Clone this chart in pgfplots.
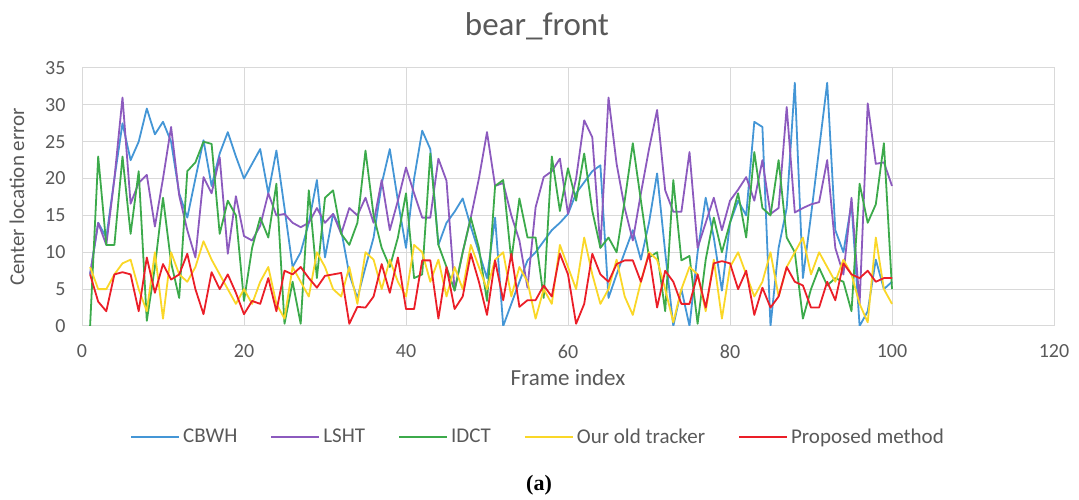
\documentclass[border=0pt]{standalone}
\usepackage{pgfplots}
\pgfplotsset{compat=1.18}
\usepackage{fontspec}
\setmainfont{Carlito}
\newfontfamily\serifbold{Liberation Serif}
\definecolor{cbwh}{RGB}{68,150,214}
\definecolor{lsht}{RGB}{140,90,190}
\definecolor{idct}{RGB}{60,170,75}
\definecolor{oldtr}{RGB}{250,215,40}
\definecolor{prop}{RGB}{235,30,40}
\definecolor{txtgray}{RGB}{89,89,89}
\definecolor{gridgray}{RGB}{217,217,217}
\begin{document}
\begin{tikzpicture}[x=1pt,y=1pt]
\path[use as bounding box] (0,0) rectangle (1079,500);
\begin{axis}[
  at={(82pt,174pt)}, anchor=south west,
  scale only axis, width=972pt, height=258pt,
  xmin=0, xmax=120, ymin=0, ymax=35,
  xtick={0,20,...,120}, ytick={0,5,...,35},
  grid=major,
  major grid style={gridgray, line width=1pt},
  axis line style={gridgray, line width=1pt},
  tick style={draw=none},
  /pgf/number format/assume math mode=true,
  ticklabel style={font=\fontsize{20}{22}\selectfont, text=txtgray},
  xticklabel style={yshift=-15pt},
  yticklabel style={xshift=-13pt},
  xlabel={Frame index},
  ylabel={Center location error},
  xlabel style={font=\fontsize{23}{25}\selectfont, text=txtgray, yshift=-4pt},
  ylabel style={font=\fontsize{21}{23}\selectfont, text=txtgray, yshift=14pt},
  legend columns=5,
  legend style={at={(0.4697,-0.43)}, anchor=center, draw=none, fill=none,
    font=\fontsize{21}{23}\selectfont, text=txtgray,
    nodes={inner xsep=3pt},
    /tikz/every even column/.append style={column sep=30pt}},
  legend image code/.code={\draw[#1, line width=2pt] (0pt,0pt) -- (48pt,0pt);},
  every axis plot/.append style={line width=1.8pt, line join=round},
]
\addplot[cbwh, mark=none] coordinates {
(1,7)(2,14)(3,12)(4,20)(5,27.5)(6,22.5)(7,25)(8,29.5)(9,26)(10,27.7)
(11,25)(12,18)(13,14.7)(14,20)(15,25.2)(16,19)(17,23.4)(18,26.3)(19,23)(20,20)
(21,22)(22,24)(23,18)(24,23.8)(25,16)(26,8)(27,10)(28,14)(29,19.8)(30,9.3)
(31,15.2)(32,13)(33,7)(34,3.8)(35,8)(36,12)(37,19.3)(38,24)(39,17)(40,10.6)
(41,20)(42,26.5)(43,24)(44,11)(45,14)(46,15.5)(47,17.3)(48,13.5)(49,10)(50,6.5)
(51,14.7)(52,0)(53,3)(54,6)(55,8.9)(56,10)(57,11.5)(58,13)(59,14)(60,15.2)
(61,18)(62,19.5)(63,21)(64,21.8)(65,3.8)(66,7)(67,10)(68,13)(69,9)(70,14)
(71,20.7)(72,10)(73,0)(74,5)(75,0)(76,10)(77,17.4)(78,12)(79,4.8)(80,14)
(81,17)(82,15)(83,27.7)(84,27)(85,0)(86,10.6)(87,16)(88,33)(89,6.5)(90,15)
(91,24)(92,33)(93,13)(94,10)(95,16.6)(96,0)(97,2)(98,9)(99,5)(100,6)
};
\addlegendentry{CBWH}
\addplot[lsht, mark=none] coordinates {
(1,7)(2,14)(3,11)(4,20)(5,31)(6,16.6)(7,19.4)(8,20.5)(9,13.5)(10,20)
(11,27)(12,17.7)(13,13)(14,9.3)(15,20.2)(16,18)(17,22.9)(18,9.8)(19,17.6)(20,12.2)
(21,11.6)(22,13.6)(23,18)(24,15)(25,15.2)(26,14)(27,13.4)(28,14)(29,16)(30,14)
(31,15.2)(32,12.5)(33,16)(34,15)(35,17.4)(36,14)(37,19.8)(38,13)(39,17)(40,21.5)
(41,18)(42,14.7)(43,14.7)(44,22.7)(45,19.7)(46,4.8)(47,10)(48,14.7)(49,20)(50,26.3)
(51,19)(52,19.4)(53,15)(54,11.6)(55,5.2)(56,16.1)(57,20.2)(58,21)(59,22.7)(60,15.2)
(61,20)(62,27.9)(63,25.6)(64,10.6)(65,31)(66,22)(67,16)(68,11.6)(69,18)(70,24)
(71,29.3)(72,18.4)(73,15.5)(74,15.5)(75,23.6)(76,10.6)(77,14)(78,17.4)(79,13)(80,17)
(81,18.5)(82,20.2)(83,17)(84,22.5)(85,15.2)(86,16)(87,29.7)(88,15.4)(89,16)(90,16.5)
(91,16.8)(92,22.5)(93,10.6)(94,7)(95,17.4)(96,3)(97,30.2)(98,22)(99,22.2)(100,19)
};
\addlegendentry{LSHT}
\addplot[idct, mark=none] coordinates {
(1,0)(2,23)(3,11)(4,11)(5,23)(6,12.5)(7,21)(8,0.7)(9,8)(10,17.4)
(11,8.6)(12,3.8)(13,21)(14,22.2)(15,25)(16,24.7)(17,12.5)(18,17)(19,15)(20,3.4)
(21,10.6)(22,14.7)(23,12)(24,19.3)(25,0.3)(26,6)(27,0.3)(28,18.4)(29,6.5)(30,17.4)
(31,18.4)(32,12.5)(33,11)(34,14)(35,23.8)(36,15)(37,10.6)(38,8)(39,12)(40,18)
(41,6.5)(42,7)(43,23.4)(44,11)(45,8)(46,4.8)(47,10)(48,14.7)(49,10.6)(50,3.4)
(51,19)(52,19.8)(53,8.9)(54,17.3)(55,12)(56,12)(57,3.8)(58,23)(59,15.6)(60,21.4)
(61,17)(62,23.4)(63,15.6)(64,10.6)(65,12)(66,10)(67,17)(68,24.8)(69,17)(70,9.3)
(71,10)(72,2)(73,19.8)(74,8.9)(75,9.5)(76,0.3)(77,9)(78,14.7)(79,10)(80,14)
(81,18)(82,12)(83,23.6)(84,16)(85,15)(86,22.5)(87,12)(88,10)(89,1)(90,5)
(91,7.9)(92,5.5)(93,6.5)(94,6)(95,2)(96,19.3)(97,14)(98,16.5)(99,24.8)(100,5)
};
\addlegendentry{IDCT}
\addplot[oldtr, mark=none] coordinates {
(1,8)(2,5)(3,5)(4,7)(5,8.5)(6,9)(7,5)(8,2)(9,10)(10,1)
(11,10)(12,7)(13,6)(14,8)(15,11.5)(16,9)(17,7)(18,5)(19,3)(20,5)
(21,3)(22,6)(23,8)(24,3)(25,1)(26,8)(27,6)(28,4)(29,10)(30,8)
(31,5)(32,4)(33,8)(34,3)(35,10)(36,9)(37,5)(38,9)(39,6)(40,4)
(41,11)(42,10)(43,6)(44,9)(45,4)(46,8)(47,5)(48,11)(49,8)(50,5)
(51,9)(52,10)(53,4)(54,8)(55,6)(56,1)(57,5)(58,3)(59,11)(60,8)
(61,5)(62,12)(63,7)(64,3)(65,5)(66,9)(67,4)(68,1.5)(69,6)(70,10)
(71,9)(72,5)(73,0.5)(74,5)(75,8)(76,7)(77,2)(78,9)(79,1)(80,8)
(81,10)(82,7)(83,4)(84,6)(85,10)(86,4)(87,8)(88,10)(89,12)(90,7)
(91,10)(92,8)(93,6)(94,9)(95,7)(96,3)(97,0.5)(98,12)(99,5)(100,3)
};
\addlegendentry{Our old tracker}
\addplot[prop, mark=none] coordinates {
(1,7)(2,3.3)(3,2)(4,7)(5,7.3)(6,7)(7,2)(8,9.3)(9,4.5)(10,8.4)
(11,6.3)(12,7)(13,9.8)(14,5)(15,1.6)(16,7.3)(17,5)(18,7)(19,4.5)(20,1.6)
(21,3.4)(22,3)(23,6.5)(24,2)(25,7.5)(26,7)(27,8)(28,6.5)(29,5.2)(30,6.8)
(31,7)(32,7.2)(33,0.3)(34,2.6)(35,2.5)(36,4)(37,8.4)(38,4.5)(39,9.3)(40,2.3)
(41,2.3)(42,8.9)(43,8.9)(44,1)(45,8)(46,2.3)(47,4)(48,9.8)(49,6)(50,1.5)
(51,8.9)(52,3.5)(53,9.8)(54,2.6)(55,3.5)(56,3.5)(57,5.5)(58,4)(59,9.8)(60,7)
(61,0.3)(62,3)(63,9.8)(64,7)(65,6)(66,8.4)(67,8.9)(68,8.9)(69,6)(70,9.8)
(71,2.5)(72,7.5)(73,6)(74,3)(75,3)(76,7)(77,2.5)(78,8.5)(79,8.8)(80,8.5)
(81,5)(82,7.5)(83,1.5)(84,5.2)(85,2.5)(86,4)(87,8)(88,6)(89,5.5)(90,2.5)
(91,2.5)(92,6)(93,3.5)(94,8.5)(95,7)(96,6.5)(97,7.5)(98,6)(99,6.5)(100,6.5)
};
\addlegendentry{Proposed method}
\end{axis}
\node[font=\fontsize{33}{35}\selectfont, text=txtgray] at (537,474) {bear\_front};
\node[font=\serifbold\bfseries\fontsize{22}{24}\selectfont] at (539,15) {(a)};
\end{tikzpicture}
\end{document}
